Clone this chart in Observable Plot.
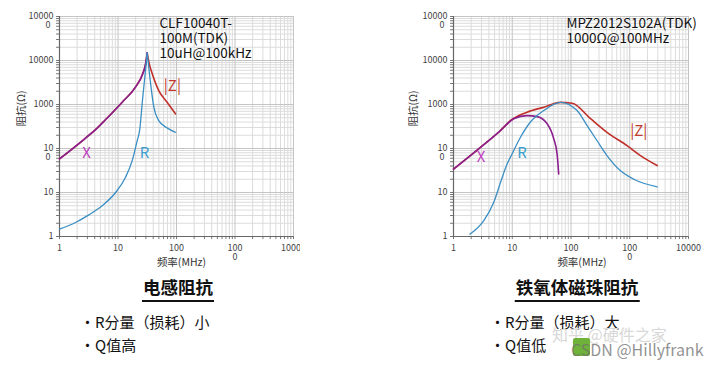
<!DOCTYPE html>
<html><head><meta charset="utf-8">
<script src="https://cdn.jsdelivr.net/npm/d3@7"></script>
<script src="https://cdn.jsdelivr.net/npm/@observablehq/plot@0.6"></script>
<style>
html,body{margin:0;padding:0;background:#fff;}
body{width:726px;height:370px;position:relative;overflow:hidden;font-family:"Noto Sans CJK SC","Noto Sans",sans-serif;color:#111;}
.abs{position:absolute;}
.title{font-weight:700;font-size:17.5px;line-height:22px;border-bottom:2.5px solid #111;padding:0 1px 2px 1px;white-space:nowrap;transform:translateX(-50%);}
.bul{font-size:15px;line-height:18px;white-space:nowrap;}
.wm{font-size:16px;white-space:nowrap;}
</style></head><body>
<div id="left" class="abs" style="left:0;top:0"></div>
<div id="right" class="abs" style="left:380px;top:0"></div>
<div class="abs title" style="left:178px;top:276px">电感阻抗</div>
<div class="abs title" style="left:577px;top:276px">铁氧体磁珠阻抗</div>
<div class="abs bul" style="left:80px;top:313px">・R分量（损耗）小</div>
<div class="abs bul" style="left:80px;top:336px">・Q值高</div>
<div class="abs bul" style="left:490px;top:313px">・R分量（损耗）大</div>
<div class="abs bul" style="left:490px;top:336px">・Q值低</div>
<div class="abs wm" style="left:552px;top:322px;color:#d8d8d8">知乎 @硬件之家</div>
<div class="abs" style="left:573px;top:338px;width:17px;height:18px;background:#6fb23a;border-radius:2px;"></div>
<div class="abs wm" style="left:571px;top:337px;color:rgba(110,110,110,0.75)">CSDN @Hillyfrank</div>
<script>
// ---- shared axis data ----
const xTicks = [1, 10, 100, 1000, 10000];
const xTickLabels = ["1", "10", "100", "100\n0", "10000"];
const yTicks = [1, 10, 100, 1000, 10000, 100000];
const yTickLabels = ["1", "10", "10\n0", "1000", "10000", "10000\n0"];
const xTitle = "频率(MHz)";
const yTitle = "阻抗(Ω)";

// ---- inductor CLF10040T-100M ----
const indXFreq = [1, 2.6, 4.4, 6.1, 11.8, 19.9, 26.5, 29.5, 31.6];
const indXVal  = [58, 160, 290, 450, 1130, 2480, 5000, 8000, 14700];
const indZFreq = [1, 2.6, 4.4, 6.1, 11.8, 19.9, 26.5, 29.5, 31.6, 34.5, 38.5, 49.7, 69, 96];
const indZVal  = [58, 160, 290, 450, 1130, 2480, 5000, 8000, 14700, 8000, 5000, 2070, 1130, 615];
const indRFreq = [1, 1.88, 3.17, 5.36, 9.1, 13.4, 17.5, 21.3, 23.4, 26.5, 29.5, 31.6, 34.5, 41, 49.7, 69, 96];
const indRVal  = [1.47, 2.08, 3.1, 5.0, 10, 22, 53, 151, 256, 1460, 5900, 14700, 5000, 870, 430, 294, 233];
const indNote = "CLF10040T-\n100M(TDK)\n10uH@100kHz";

// ---- ferrite bead MPZ2012S102A ----
const fbXFreq = [1, 2.88, 6.3, 10.6, 17.9, 26.6, 39.3, 51, 58, 61.7];
const fbXVal  = [34, 106, 256, 475, 560, 530, 365, 165, 75, 26.5];
const fbZFreq = [1, 2.88, 6.3, 9.3, 17.9, 34.4, 66, 105, 215, 410, 900, 1520, 2930];
const fbZVal  = [34, 106, 256, 430, 670, 870, 1120, 1070, 475, 233, 116, 69, 41];
const fbRFreq = [1.9, 3.28, 4.85, 6.5, 8.2, 9.3, 13.8, 20.4, 34.4, 66, 127, 188, 278, 410, 690, 1170, 2930];
const fbRVal  = [1.13, 2.3, 6, 19, 45, 63, 180, 400, 730, 1120, 730, 330, 150, 69, 31.5, 20, 13.5];
const fbNote = "MPZ2012S102A(TDK)\n1000Ω@100MHz";

// curve label positions (frequency, impedance)
const indLabels = [
  {t: "|Z|", f: 85, v: 2570, c: "#c0392b"},
  {t: "X", f: 2.9, v: 80, c: "#c040c0"},
  {t: "R", f: 28.4, v: 80, c: "#3aa0d0"}
];
const fbLabels = [
  {t: "|Z|", f: 1426, v: 246, c: "#c0392b"},
  {t: "X", f: 2.94, v: 62, c: "#c040c0"},
  {t: "R", f: 14.7, v: 78, c: "#3aa0d0"}
];

const FONT = '"Noto Sans CJK JP","Noto Sans",sans-serif';

// builds points; when split, the series is cut at its maximum so a cusp stays sharp
function toPts(fs, vs, split) {
  let im = 0;
  vs.forEach((v, i) => { if (v > vs[im]) im = i; });
  const pts = [];
  fs.forEach((f, i) => {
    if (split) {
      if (i <= im) pts.push({f, v: vs[i], seg: 0});
      if (i >= im) pts.push({f, v: vs[i], seg: 1});
    } else pts.push({f, v: vs[i], seg: 0});
  });
  return pts;
}

function chart(o) {
  const minorX = [], minorY = [];
  for (const d of xTicks.slice(0, -1)) for (let k = 2; k <= 9; k++) minorX.push(k * d);
  for (const d of yTicks.slice(0, -1)) for (let k = 2; k <= 9; k++) minorY.push(k * d);
  const allX = minorX.concat(xTicks), allY = minorY.concat(yTicks);
  const split = s => s.split("\n");
  const xl1 = xTicks.map((v, i) => ({v, l: split(xTickLabels[i])[0]}));
  const xl2 = xTicks.map((v, i) => ({v, l: split(xTickLabels[i])[1]})).filter(d => d.l);
  const yl1 = yTicks.map((v, i) => ({v, l: split(yTickLabels[i])[0]}));
  const yl2 = yTicks.map((v, i) => ({v, l: split(yTickLabels[i])[1]})).filter(d => d.l);
  return Plot.plot({
    width: o.width, height: 275,
    marginLeft: o.ml, marginRight: o.mr, marginTop: 16, marginBottom: 39,
    x: {type: "log", domain: [1, 10000], axis: null},
    y: {type: "log", domain: [1, 100000], axis: null},
    style: {fontFamily: FONT, overflow: "hidden", background: "white"},
    marks: [
      Plot.ruleX(minorX, {stroke: "#dcdcdc", strokeWidth: 1}),
      Plot.ruleY(minorY, {stroke: "#dcdcdc", strokeWidth: 1}),
      Plot.ruleX(xTicks, {stroke: "#c4c4c4", strokeWidth: 1}),
      Plot.ruleY(yTicks, {stroke: "#c4c4c4", strokeWidth: 1}),
      // small outward tick marks on both axes
      Plot.ruleX(allX, {y1: 1, y2: 0.85, stroke: "#777"}),
      Plot.ruleY(allY, {x1: 1, x2: 0.89, stroke: "#777"}),
      Plot.ruleX([1], {stroke: "#666", strokeWidth: 1.2}),
      Plot.ruleY([1], {stroke: "#666", strokeWidth: 1.2}),
      Plot.text(xl1, {x: "v", frameAnchor: "bottom", text: "l", dy: 14, fontSize: 9, fill: "#444"}),
      Plot.text(xl2, {x: "v", frameAnchor: "bottom", text: "l", dy: 23, fontSize: 9, fill: "#444"}),
      Plot.text(yl1, {y: "v", frameAnchor: "left", text: "l", textAnchor: "end", dx: -6, fontSize: 9, fill: "#444"}),
      Plot.text(yl2, {y: "v", frameAnchor: "left", text: "l", dx: -14, dy: 9, fontSize: 9, fill: "#444"}),
      Plot.text([xTitle], {frameAnchor: "bottom", dy: 29, dx: o.xtdx, fontSize: 10.5, fill: "#333"}),
      Plot.text([yTitle], {frameAnchor: "left", dx: o.ytdx, rotate: -90, fontSize: 10.5, fill: "#333"}),
      Plot.line(o.Z, {x: "f", y: "v", z: "seg", stroke: "#c0302a", strokeWidth: 1.6, curve: "monotone-x"}),
      Plot.line(o.X, {x: "f", y: "v", z: "seg", stroke: "#8a1f8e", strokeWidth: 1.6, curve: "monotone-x"}),
      Plot.line(o.R, {x: "f", y: "v", z: "seg", stroke: "#3a8fc4", strokeWidth: 1.3, curve: "monotone-x"}),
      Plot.text(o.labels, {x: "f", y: "v", text: "t", fill: "c", fontSize: 15}),
      Plot.text([o.note], {frameAnchor: "top-left", dx: o.ndx, dy: 1, lineAnchor: "top", lineHeight: 1.1, fontSize: 13.5, fill: "#111"})
    ]
  });
}

document.getElementById("left").append(chart({
  width: 300, ml: 59, mr: 7, xtdx: 5, ytdx: -38, ndx: 100,
  X: toPts(indXFreq, indXVal, true), Z: toPts(indZFreq, indZVal, true), R: toPts(indRFreq, indRVal, true),
  labels: indLabels, note: indNote
}));
document.getElementById("right").append(chart({
  width: 346, ml: 73, mr: 38, xtdx: 11, ytdx: -40, ndx: 113,
  X: toPts(fbXFreq, fbXVal, false), Z: toPts(fbZFreq, fbZVal, false), R: toPts(fbRFreq, fbRVal, false),
  labels: fbLabels, note: fbNote
}));
</script>
</body></html>
